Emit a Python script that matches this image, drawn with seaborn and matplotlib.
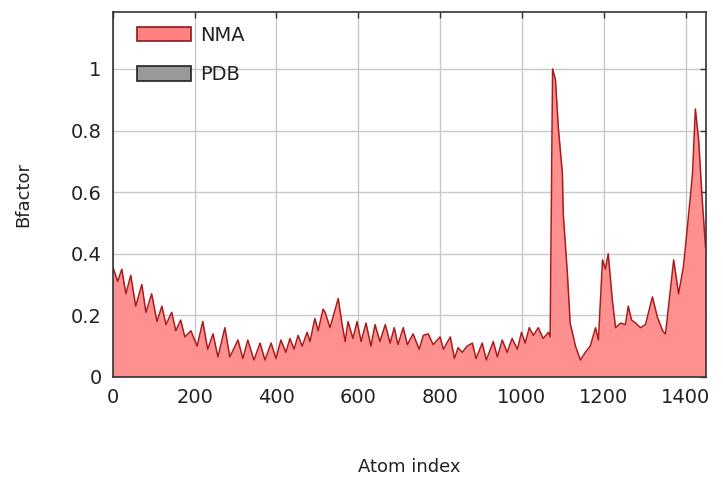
import matplotlib
matplotlib.use("Agg")
import matplotlib.pyplot as plt
import seaborn as sns
import pandas as pd
from matplotlib.patches import Patch

atom_index = [0, 2, 12, 22, 32, 44, 56, 71, 81, 95, 108, 120, 130, 144, 154, 166, 176, 191, 206,
              220, 232, 245, 257, 274, 286, 306, 318, 330, 345, 360, 372, 387, 399, 411, 423,
              433, 443, 453, 463, 475, 482, 494, 502, 514, 519, 531, 551, 560, 568, 575, 587,
              597, 607, 619, 631, 641, 653, 666, 678, 688, 697, 710, 720, 734, 749, 759, 771,
              783, 800, 808, 825, 835, 844, 854, 866, 879, 888, 903, 913, 930, 940, 952, 964,
              976, 989, 999, 1008, 1018, 1028, 1040, 1052, 1065, 1069, 1075, 1082, 1089, 1099,
              1101, 1111, 1118, 1131, 1143, 1155, 1167, 1180, 1187, 1197, 1204, 1211, 1221,
              1229, 1241, 1253, 1260, 1268, 1278, 1290, 1302, 1319, 1331, 1344, 1351, 1371,
              1383, 1395, 1407, 1417, 1424, 1432, 1441, 1449]
nma = [0.35, 0.35, 0.31, 0.35, 0.27, 0.33, 0.23, 0.30, 0.21, 0.27, 0.18, 0.23, 0.17, 0.21, 0.15,
       0.185, 0.13, 0.15, 0.10, 0.18, 0.09, 0.14, 0.065, 0.16, 0.065, 0.12, 0.06, 0.12, 0.055,
       0.11, 0.055, 0.11, 0.06, 0.12, 0.08, 0.125, 0.09, 0.135, 0.10, 0.145, 0.115, 0.19, 0.15,
       0.22, 0.21, 0.16, 0.255, 0.175, 0.115, 0.18, 0.125, 0.18, 0.115, 0.175, 0.10, 0.17,
       0.115, 0.17, 0.11, 0.16, 0.105, 0.16, 0.105, 0.14, 0.09, 0.135, 0.14, 0.105, 0.13, 0.09,
       0.13, 0.06, 0.095, 0.08, 0.10, 0.11, 0.06, 0.11, 0.055, 0.115, 0.065, 0.12, 0.08, 0.125,
       0.09, 0.145, 0.11, 0.16, 0.135, 0.16, 0.125, 0.145, 0.13, 1.0, 0.965, 0.81, 0.66, 0.53,
       0.34, 0.175, 0.10, 0.055, 0.08, 0.10, 0.16, 0.12, 0.38, 0.35, 0.40, 0.25, 0.16, 0.175,
       0.17, 0.23, 0.185, 0.175, 0.16, 0.17, 0.26, 0.195, 0.15, 0.14, 0.38, 0.27, 0.36, 0.52,
       0.66, 0.87, 0.77, 0.57, 0.42]

x_ticks = [0, 200, 400, 600, 800, 1000, 1200, 1400]
y_ticks = [0, 0.2, 0.4, 0.6, 0.8, 1]
y_tick_labels = ["0", "0.2", "0.4", "0.6", "0.8", "1"]
legend_labels = ["NMA", "PDB"]

df = pd.DataFrame({"Atom index": atom_index, "Bfactor": nma})

sns.set_theme(style="whitegrid")
plt.rcParams["font.family"] = ["DejaVu Sans"]

fig = plt.figure(figsize=(7.23, 4.98), dpi=100)
ax = fig.add_axes([0.156, 0.243, 0.8205, 0.733])

fill_color = "#ff9090"
line_color = "#a81c1c"
ax.fill_between(df["Atom index"], 0, df["Bfactor"], color=fill_color, linewidth=0, zorder=2)
sns.lineplot(data=df, x="Atom index", y="Bfactor", ax=ax, color=line_color, linewidth=1.1,
             zorder=3, sort=False)

ax.set_xlim(0, 1450)
ax.set_ylim(0, 1.185)
ax.set_xticks(x_ticks)
ax.set_yticks(y_ticks)
ax.set_yticklabels(y_tick_labels)
ax.grid(True, color="#c8c8c8", linewidth=1.0, zorder=0)
ax.set_axisbelow(True)
for s in ax.spines.values():
    s.set_color("#333333")
    s.set_linewidth(1.2)
    s.set_zorder(5)
ax.tick_params(axis="both", which="both", direction="in", length=4, width=1, color="#333333",
               top=True, right=True, labelsize=14, labelcolor="#222222", pad=8)

ax.set_xlabel("Atom index", fontsize=13, color="#222222", labelpad=37)
ax.set_ylabel("Bfactor", fontsize=13, color="#222222", labelpad=28)

handles = [Patch(facecolor="#ff8080", edgecolor="#8a1a1a", linewidth=1.2),
           Patch(facecolor="#999999", edgecolor="#222222", linewidth=1.2)]
leg = ax.legend(handles, legend_labels, loc="upper left", bbox_to_anchor=(0.012, 1.01),
                frameon=False, fontsize=14, handlelength=2.75, handleheight=0.8,
                labelspacing=1.05, handletextpad=0.45)
for t in leg.get_texts():
    t.set_color("#222222")

fig.savefig("out.png", dpi=100, facecolor="white")
